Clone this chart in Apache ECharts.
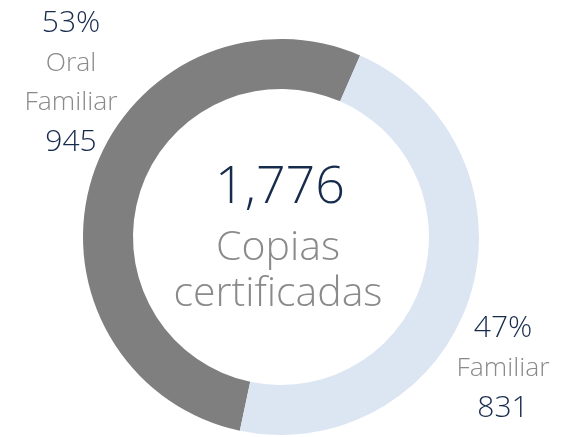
<!DOCTYPE html>
<html>
<head>
<meta charset="utf-8">
<script src="https://cdn.jsdelivr.net/npm/echarts@6/dist/echarts.min.js"></script>
<style>html,body{margin:0;padding:0;background:#fff;}#c{width:570px;height:437px;}</style>
</head>
<body>
<div id="c"></div>
<script>
const categories = ['Oral\nFamiliar', 'Familiar'];
const values = [945, 831];
const percents = ['53%', '47%'];
const centerTitle = 'Copias\ncertificadas';
const colors = ['#7f7f7f', '#dce6f2'];

const total = values.reduce((a, b) => a + b, 0);
const FONT = '"Open Sans"';
const NAVY = '#172b4d';
const GRAY = '#8a8a8a';
// label anchor (center of block) for each slice
const labelPos = [[71, 83], [503, 368]];

function labelText(i) {
  return '{p|' + percents[i] + '}\n' +
    categories[i].split('\n').map(s => '{n|' + s + '}').join('\n') +
    '\n{v|' + values[i].toLocaleString('en-US') + '}';
}
const rich = {
  p: {fontSize: 30, fontWeight: 300, fill: NAVY, fontFamily: FONT, lineHeight: 41},
  n: {fontSize: 26.5, fontWeight: 300, fill: GRAY, fontFamily: FONT, lineHeight: 39},
  v: {fontSize: 30, fontWeight: 300, fill: NAVY, fontFamily: FONT, lineHeight: 41}
};

const chart = echarts.init(document.getElementById('c'));
chart.setOption({
  animation: false,
  series: [{
    type: 'pie',
    center: [281, 237],
    radius: [148, 198],
    startAngle: 258,
    clockwise: true,
    silent: true,
    label: {show: false},
    labelLine: {show: false},
    data: categories.map((n, i) => ({name: n, value: values[i], itemStyle: {color: colors[i]}}))
  }],
  graphic: [
    {type: 'text', x: 280, y: 188,
     style: {text: total.toLocaleString('en-US'), align: 'center', verticalAlign: 'middle',
       fontSize: 52, fontWeight: 300, fontFamily: FONT, fill: NAVY}},
    {type: 'text', x: 278, y: 271,
     style: {text: centerTitle, align: 'center', verticalAlign: 'middle',
       fontSize: 41, fontWeight: 300, fontFamily: FONT, fill: GRAY, lineHeight: 46}}
  ].concat(labelPos.map((p, i) => ({
    type: 'text', x: p[0], y: p[1],
    style: {text: labelText(i), rich: rich, align: 'center', verticalAlign: 'middle', fontFamily: FONT}
  })))
});
</script>
</body>
</html>
